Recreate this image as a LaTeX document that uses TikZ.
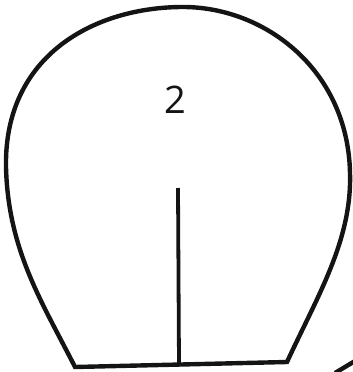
\documentclass[tikz,border=0pt]{standalone}
\usepackage{fontspec}
\setmainfont{Open Sans}
\begin{document}
\begin{tikzpicture}[x=1pt,y=-1pt,
  outline/.style={line width=4.4pt, line join=miter, draw=black!92},
  stem/.style={line width=3.8pt, draw=black!92},
  label/.style={font=\fontsize{38}{38}\selectfont, text=black!92}]
\useasboundingbox (0,0) rectangle (353,372);
\coordinate (bl) at (75,367);
\coordinate (br) at (287,362);
\coordinate (rt) at (350,173);
\coordinate (top) at (183,7);
\coordinate (lt) at (6,167);
\draw[outline] (bl) -- (br)
  .. controls (318,295) and (352,240) .. (rt)
  .. controls (348,70) and (265,7) .. (top)
  .. controls (95,7) and (4,55) .. (lt)
  .. controls (8,250) and (42,302) .. cycle;
\coordinate (s1) at (178,188);
\coordinate (s2) at (179,365);
\draw[stem] (s1) -- (s2);
\node[label] (n2) at (175,100) {2};
\coordinate (c1) at (335,373);
\coordinate (c2) at (355,361);
\draw[outline] (c1) -- (c2);
\end{tikzpicture}
\end{document}
